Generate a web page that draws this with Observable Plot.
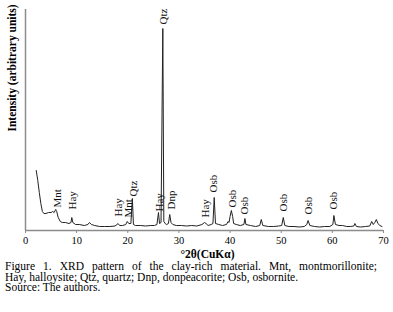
<!DOCTYPE html>
<html><head><meta charset="utf-8">
<script src="https://cdn.jsdelivr.net/npm/d3@7"></script>
<script src="https://cdn.jsdelivr.net/npm/@observablehq/plot@0.6"></script>
<style>
body{margin:0;background:#fff;font-family:"Liberation Serif",serif;color:#000}
#chart svg{display:block}
.cap{margin:-1px 0 0 5px;width:372px;font-size:11.5px;line-height:10.5px}
.l1{text-align:justify;text-align-last:justify}
</style></head><body>
<div id="chart"></div>
<div class="cap">
<div class="l1">Figure 1. XRD pattern of the clay-rich material. Mnt, montmorillonite;</div>
<div>Hay, halloysite; Qtz, quartz; Dnp, donpeacorite; Osb, osbornite.</div>
<div>Source: The authors.</div>
</div>
<script>
const twoTheta = [2.1,2.4,2.7,3.0,3.3,3.6,4.0,4.5,5.0,5.3,5.6,5.9,6.1,6.4,6.8,7.2,7.8,8.5,8.9,9.05,9.25,9.8,10.5,11.5,12.2,12.5,12.9,13.5,14.5,15.5,16.5,17.5,17.9,18.1,18.4,19.0,19.6,19.9,20.2,20.6,20.9,21.1,21.5,22.5,23.5,24.5,25.2,25.7,26.0,26.2,26.5,26.85,27.05,27.3,27.6,27.95,28.2,28.45,28.8,29.5,30.5,31.5,32.5,33.5,34.5,35.0,35.3,35.7,36.3,36.65,36.9,37.15,37.8,38.5,39.3,39.6,39.8,40.0,40.25,40.5,40.7,41.2,42.0,42.7,42.9,43.1,44.0,45.0,45.8,46.1,46.4,47.5,48.5,49.5,50.1,50.4,50.7,51.5,52.5,53.5,54.5,55.0,55.25,55.6,56.5,57.5,58.5,59.5,60.1,60.3,60.6,61.3,62.0,62.8,63.5,64.2,64.4,64.7,65.5,66.5,67.3,67.7,68.0,68.3,68.6,68.9,69.3,69.7];
const intensity = [60,50,38,27,19,17,17,18,18,19,18,21,19,13,9,8,8,7,8,13,8,6,6,5,6,8,6,5,4,4,4,4.5,6,7,5,5,6,9,7,7,32,6,5,5,4.5,5,5,6,18,7,8,202,9,7,6,7,16,8,6,5,5,4.5,5,4.5,6,8,7,5,6,7,33,7,6,5,6,9,8,14,20,14,7,6,5,6,12,6,5,4,5,11,5,4,4,4.5,5,13,5,4,4,3.5,4,6,10,5,4,3.5,4,4,6,15,6,5,5,4,4,4.5,7,4,3.5,4,4.5,9,6,8,11,7,5,4];

const labelText = ["Mnt","Hay","Hay","Mnt","Qtz","Hay","Qtz","Dnp","Hay","Osb","Osb","Osb","Osb","Osb","Osb"];
const labelPos  = [6.3,9.2,18.2,20.1,21.2,26.1,27.0,28.5,35.2,36.8,40.4,42.9,50.5,55.4,60.3];
const labelBase = [22,20,13,12,33,18,205,20,12,37,22,15,18,15,20];
const xTicks = [0,10,20,30,40,50,60,70];

const xTitle = "°2θ(CuKα)";
const yTitle = "Intensity (arbitrary units)";

const profile = twoTheta.map((t, i) => ({t, v: intensity[i]}));
const labels = labelText.map((s, i) => ({s, x: labelPos[i], y: labelBase[i]}));

const axisColor = "#8c8c8c";
const chart = Plot.plot({
  width: 393, height: 262,
  marginLeft: 25, marginRight: 10, marginTop: 9, marginBottom: 32,
  style: {fontFamily: '"Liberation Serif", serif', background: "#fff", color: "#000"},
  x: {domain: [0, 70]},
  y: {domain: [0, 221], axis: null},
  marks: [
    Plot.axisX({ticks: xTicks, tickSize: 3, tickPadding: 3, fontSize: 10.5, label: null, stroke: axisColor, fill: "#000"}),
    Plot.ruleX([0], {stroke: axisColor, strokeWidth: 1.5}),
    Plot.ruleY([0], {stroke: axisColor, strokeWidth: 1.5}),
    Plot.line(profile, {x: "t", y: "v", stroke: "#222", strokeWidth: 1}),
    Plot.text(labels, {x: "x", y: "y", text: "s", rotate: -90, textAnchor: "start", lineAnchor: "middle", fontSize: 11, fill: "#111", dy: -1}),
    Plot.text([xTitle], {text: d => d, frameAnchor: "bottom", dy: 24, dx: 3, fontWeight: "bold", fontSize: 11.5, lineAnchor: "middle"}),
    Plot.text([yTitle], {text: d => d, frameAnchor: "left", dx: -13.3, dy: 11.5, rotate: -90, fontWeight: "bold", fontSize: 11.5})
  ]
});
document.getElementById("chart").appendChild(chart);
</script>
</body></html>
